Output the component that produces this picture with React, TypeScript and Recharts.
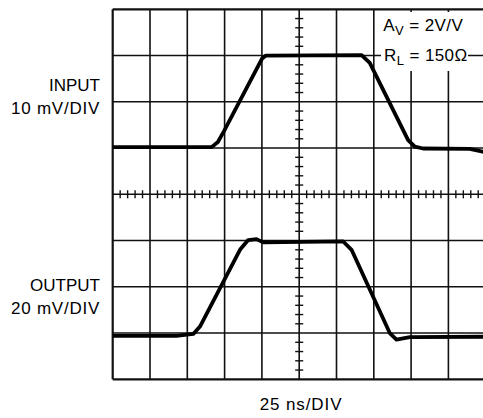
import { LineChart, Line, XAxis, YAxis, ReferenceLine } from 'recharts';

// time in ns (25 ns/DIV), level in screen divisions (center = 0)
const inputTime = [0, 66.3, 70.5, 74.5, 100, 102.7, 166.8, 172.3, 198, 202.5, 208, 239.3, 248, 250];
const inputLevel = [1.02, 1.02, 1.13, 1.36, 2.93, 3.0, 3.01, 2.84, 1.17, 1.03, 0.99, 0.98, 0.92, 0.91];

const outputTime = [0, 42.7, 54, 58.5, 85.3, 90.8, 96.4, 100.9, 154.5, 160.1, 185.7, 190.2, 199.1, 250];
const outputLevel = [-3.06, -3.06, -3.02, -2.86, -1.2, -0.99, -0.97, -1.04, -1.02, -1.2, -3.0, -3.14, -3.09, -3.08];

const xDivs = [0, 25, 50, 75, 100, 125, 150, 175, 200, 225, 250];
const yDivs = [-4, -3, -2, -1, 0, 1, 2, 3, 4];

const inputData = inputTime.map((t, i) => ({ t, v: inputLevel[i] }));
const outputData = outputTime.map((t, i) => ({ t, v: outputLevel[i] }));

// minor ticks on the center axes, 5 per division
const xMinor: number[] = [];
for (let i = 1; i < 50; i++) if (i % 5 !== 0) xMinor.push(i * 5);
const yMinor: number[] = [];
for (let i = -19; i < 20; i++) if (i % 5 !== 0) yMinor.push(i / 5);

const font = '"Liberation Sans", Arial, Helvetica, sans-serif';

const label = (extra: React.CSSProperties): React.CSSProperties => ({
  position: 'absolute',
  fontFamily: font,
  fontSize: 17,
  lineHeight: '17px',
  color: '#000',
  whiteSpace: 'nowrap',
  ...extra,
});

export default function App() {
  return (
    <div style={{ position: 'absolute', left: 0, top: 0, width: 483, height: 418, overflow: 'hidden', background: '#fff' }}>
      <LineChart
        width={500}
        height={418}
        margin={{ top: 9.3, left: 112.7, right: 14.3, bottom: 38.7 }}
      >
        <XAxis type="number" dataKey="t" domain={[0, 250]} hide allowDataOverflow />
        <YAxis type="number" domain={[-4, 4]} hide allowDataOverflow />
        {xDivs.map((x) => (
          <ReferenceLine
            key={`gx-${x}`}
            x={x}
            stroke="#111"
            strokeWidth={x === 0 || x === 250 ? 2.2 : 1.6}
          />
        ))}
        {yDivs.map((y) => (
          <ReferenceLine
            key={`gy-${y}`}
            y={y}
            stroke="#111"
            strokeWidth={y === -4 || y === 4 ? 2.2 : 1.6}
          />
        ))}
        {xMinor.map((x) => (
          <ReferenceLine
            key={`tx-${x}`}
            segment={[{ x, y: -0.087 }, { x, y: 0.087 }]}
            stroke="#111"
            strokeWidth={1.4}
          />
        ))}
        {yMinor.map((y) => (
          <ReferenceLine
            key={`ty-${y}`}
            segment={[{ x: 122.3, y }, { x: 127.7, y }]}
            stroke="#111"
            strokeWidth={1.4}
          />
        ))}
        <Line
          data={inputData}
          dataKey="v"
          type="linear"
          stroke="#000"
          strokeWidth={3.8}
          strokeLinejoin="round"
          dot={false}
          isAnimationActive={false}
        />
        <Line
          data={outputData}
          dataKey="v"
          type="linear"
          stroke="#000"
          strokeWidth={3.8}
          strokeLinejoin="round"
          dot={false}
          isAnimationActive={false}
        />
      </LineChart>

      <div style={{ position: 'absolute', left: 379, top: 12, width: 104, height: 31, background: '#fff' }} />
      <div style={{ position: 'absolute', left: 381, top: 43, width: 87, height: 28, background: '#fff' }} />

      <div style={label({ left: 0, width: 100, top: 77.3, textAlign: 'right' })}>INPUT</div>
      <div style={label({ left: 0, width: 100, top: 99.6, textAlign: 'right', letterSpacing: 0.75 })}>10 mV/DIV</div>
      <div style={label({ left: 0, width: 100, top: 277.3, textAlign: 'right' })}>OUTPUT</div>
      <div style={label({ left: 0, width: 100, top: 299.9, textAlign: 'right', letterSpacing: 0.75 })}>20 mV/DIV</div>
      <div style={label({ left: 201, width: 200, top: 396.3, textAlign: 'center', letterSpacing: 0.9 })}>25 ns/DIV</div>
      <div style={label({ left: 383.3, top: 17.3, letterSpacing: 0.4 })}>
        A<span style={{ fontSize: 13, position: 'relative', top: 4 }}>V</span> = 2V/V
      </div>
      <div style={label({ left: 384, top: 47.3, letterSpacing: 0.4 })}>
        R<span style={{ fontSize: 13, position: 'relative', top: 4 }}>L</span> = 150Ω
      </div>
    </div>
  );
}
